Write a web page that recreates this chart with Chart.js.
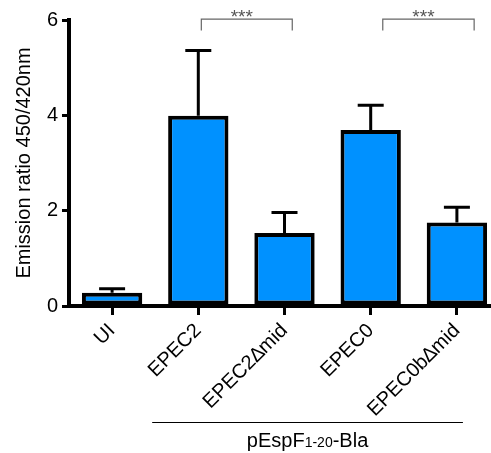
<!DOCTYPE html>
<html>
<head>
<meta charset="utf-8">
<script src="https://cdn.jsdelivr.net/npm/chart.js@4/dist/chart.umd.min.js"></script>
<style>
  html, body { margin: 0; padding: 0; background: #fff; overflow: hidden; }
  #wrap { width: 491px; height: 453px; overflow: hidden; }
</style>
</head>
<body>
<div id="wrap"><canvas id="grafico" width="500" height="453"></canvas></div>
<script>
// ---------------------------------------------------------------------------
// Dados do gráfico
// ---------------------------------------------------------------------------
const categorias = ["UI", "EPEC2", "EPEC2\u2206mid", "EPEC0", "EPEC0b\u2206mid"];
const medias = [0.28, 3.99, 1.53, 3.69, 1.75];
const erros = [0.08, 1.37, 0.43, 0.52, 0.32];
const ticksY = [0, 2, 4, 6];
// pares comparados (índices das categorias) e o texto da significância
const comparacoes = [[1, 2], [3, 4]];
const significancia = ["***", "***"];
const grupoTexto = "pEspF";
const grupoSub = "1-20";
const grupoSufixo = "-Bla";

const FONTE = "'Liberation Sans', Arial, sans-serif";

// ---------------------------------------------------------------------------
// Plugin: barras de erro, colchetes de significância e rótulo do grupo
// ---------------------------------------------------------------------------
const extrasPlugin = {
  id: "extras",
  afterDatasetsDraw(chart) {
    const ctx = chart.ctx;
    const x = chart.scales.x;
    const y = chart.scales.y;

    // barras de erro (só para cima)
    ctx.save();
    ctx.strokeStyle = "#000";
    ctx.lineWidth = 3;
    medias.forEach((m, i) => {
      const cx = x.getPixelForValue(i);
      const yTopo = y.getPixelForValue(m + erros[i]);
      const yBarra = y.getPixelForValue(m);
      ctx.beginPath();
      ctx.moveTo(cx, yBarra);
      ctx.lineTo(cx, yTopo);
      ctx.moveTo(cx - 13, yTopo);
      ctx.lineTo(cx + 13, yTopo);
      ctx.stroke();
    });
    ctx.restore();

    // colchetes de significância
    ctx.save();
    ctx.strokeStyle = "#666";
    ctx.lineWidth = 1.2;
    ctx.fillStyle = "#555";
    ctx.font = "19px " + FONTE;
    ctx.textAlign = "center";
    ctx.textBaseline = "alphabetic";
    comparacoes.forEach((par, k) => {
      const desloc = k === 0 ? [0.035, 0.09] : [0.14, 0.2];
      const x1 = x.getPixelForValue(par[0] + desloc[0]);
      const x2 = x.getPixelForValue(par[1] + desloc[1]);
      const yLinha = y.getPixelForValue(6.02);
      const yPe = y.getPixelForValue(5.78);
      ctx.beginPath();
      ctx.moveTo(x1, yPe);
      ctx.lineTo(x1, yLinha);
      ctx.lineTo(x2, yLinha);
      ctx.lineTo(x2, yPe);
      ctx.stroke();
      ctx.fillText(significancia[k], (x1 + x2) / 2 - 5, yLinha + 4);
    });
    ctx.restore();

    // linha e rótulo do grupo pEspF1-20-Bla
    ctx.save();
    const gx1 = x.getPixelForValue(0.465);
    const gx2 = x.getPixelForValue(4.07);
    ctx.strokeStyle = "#000";
    ctx.lineWidth = 1;
    ctx.beginPath();
    ctx.moveTo(gx1, 422.5);
    ctx.lineTo(gx2, 422.5);
    ctx.stroke();

    ctx.fillStyle = "#000";
    ctx.textBaseline = "alphabetic";
    const fGrande = "20px " + FONTE;
    const fPequeno = "14px " + FONTE;
    ctx.font = fGrande;
    const w1 = ctx.measureText(grupoTexto).width;
    const w3 = ctx.measureText(grupoSufixo).width;
    ctx.font = fPequeno;
    const w2 = ctx.measureText(grupoSub).width;
    let px = (gx1 + gx2) / 2 - (w1 + w2 + w3) / 2;
    const base = 447;
    ctx.textAlign = "left";
    ctx.font = fGrande;
    ctx.fillText(grupoTexto, px, base);
    px += w1;
    ctx.font = fPequeno;
    ctx.fillText(grupoSub, px, base);
    px += w2;
    ctx.font = fGrande;
    ctx.fillText(grupoSufixo, px, base);
    ctx.restore();
  }
};

// ---------------------------------------------------------------------------
// Gráfico
// ---------------------------------------------------------------------------
const ctx = document.getElementById("grafico").getContext("2d");

new Chart(ctx, {
  type: "bar",
  data: {
    labels: categorias,
    datasets: [
      {
        data: medias,
        backgroundColor: "#0091FF",
        borderColor: "#000",
        borderWidth: 4,
        borderSkipped: false,
        barPercentage: 0.7,
        categoryPercentage: 1
      }
    ]
  },
  options: {
    responsive: false,
    animation: false,
    layout: { padding: { top: 20, right: 0, left: 0, bottom: 0 } },
    plugins: {
      legend: { display: false },
      tooltip: { enabled: false }
    },
    scales: {
      x: {
        afterFit(scale) { scale.height = 147; },
        border: { color: "#000", width: 4 },
        grid: {
          offset: false,
          drawOnChartArea: false,
          drawTicks: true,
          tickLength: 9,
          lineWidth: 3,
          color: "#000"
        },
        ticks: {
          color: "#000",
          font: { family: FONTE, size: 20 },
          minRotation: 45,
          maxRotation: 45,
          padding: 4
        }
      },
      y: {
        min: 0,
        max: 6,
        afterFit(scale) { scale.width = 69; },
        afterBuildTicks(scale) { scale.ticks = ticksY.map(v => ({ value: v })); },
        border: { color: "#000", width: 4 },
        grid: {
          drawOnChartArea: false,
          drawTicks: true,
          tickLength: 7,
          lineWidth: 3,
          color: "#000"
        },
        ticks: {
          color: "#000",
          font: { family: FONTE, size: 20 },
          padding: 4
        },
        title: {
          display: true,
          text: "Emission ratio 450/420nm",
          color: "#000",
          font: { family: FONTE, size: 20 },
          padding: { top: 12, bottom: 0 }
        }
      }
    }
  },
  plugins: [extrasPlugin]
});
</script>
</body>
</html>
